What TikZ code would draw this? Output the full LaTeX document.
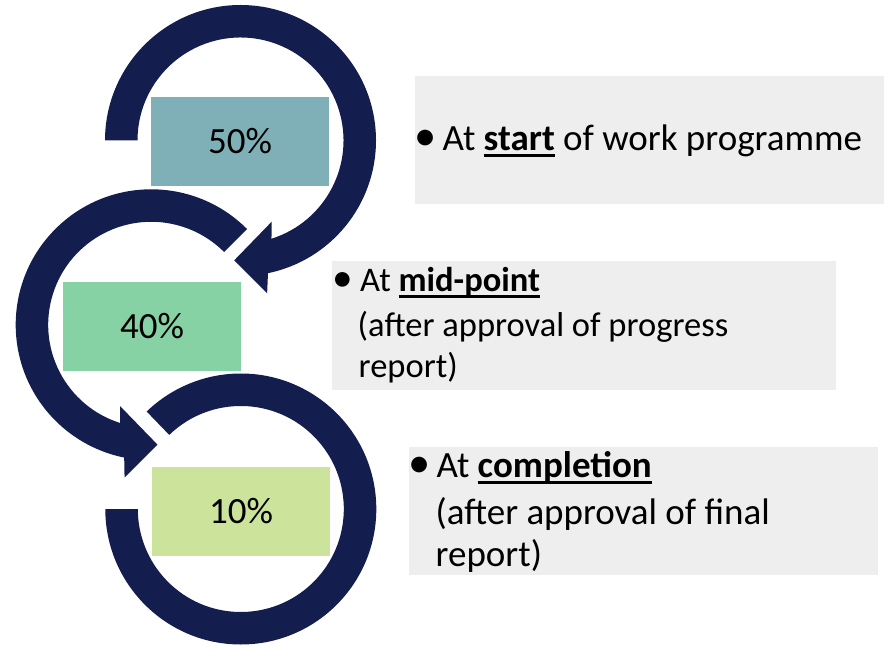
\documentclass[tikz,border=0pt]{standalone}
\usepackage{fontspec}
\usepackage{graphicx}
\setmainfont{Carlito}
\definecolor{navy}{RGB}{20,30,78}
\definecolor{boxgrey}{RGB}{238,238,238}
\definecolor{pctA}{RGB}{127,176,183}
\definecolor{pctB}{RGB}{135,210,165}
\definecolor{pctC}{RGB}{204,227,155}
\newcommand{\myul}[1]{\setbox0\hbox{#1}\rlap{\rule[-6pt]{\wd0}{2.8pt}}\box0\relax}
\newcommand{\mybul}[1]{\makebox[#1][l]{\hspace{-6pt}\scalebox{1.2}{•}}}
\begin{document}
\begin{tikzpicture}[x=1pt,y=1pt,
  pct/.style={minimum width=178pt,minimum height=89pt,inner sep=0pt,font=\fontsize{37}{44}\selectfont},
  greybox/.style={fill=boxgrey,inner sep=0pt,anchor=south west},
  txtline/.style={anchor=base west,inner sep=0pt,font=\fontsize{37}{44}\selectfont},
  txtsmall/.style={anchor=base west,inner sep=0pt,font=\fontsize{34.5}{41}\selectfont}]
\useasboundingbox (0,0) rectangle (886,646);
% ring 1 (clockwise, arrow)
\begin{scope}[shift={(240.5,505.5)}]
\fill[navy] (180:135.5pt) arc[start angle=180,end angle=-78.3,radius=135.5pt]
  -- (-80.1:155pt) -- (-93:120pt) -- (-69:87pt) -- (-72.5:103pt)
  arc[start angle=-72.5,end angle=180,radius=103pt] -- cycle;
\end{scope}
% ring 2 (counter-clockwise, arrow)
\begin{scope}[shift={(151.2,321.2)}]
\fill[navy] (45:135.5pt) arc[start angle=45,end angle=258.5,radius=135.5pt]
  -- (260.1:155pt) -- (273:120pt) -- (249:87pt) -- (252.5:103pt)
  arc[start angle=252.5,end angle=45,radius=103pt] -- cycle;
\end{scope}
% ring 3 (no arrow)
\begin{scope}[shift={(240.8,137)}]
\fill[navy] (180:135.5pt) arc[start angle=180,end angle=494,radius=135.5pt]
  -- (494:103pt) arc[start angle=494,end angle=180,radius=103pt] -- cycle;
\end{scope}
% percentage boxes
\node[pct,fill=pctA] (p50) at (240,504.8) {50\%};
\node[pct,fill=pctB] (p40) at (152.2,319.8) {40\%};
\node[pct,fill=pctC] (p10) at (241,134.7) {10\%};
% grey boxes
\node[greybox,minimum width=469pt,minimum height=127.6pt] (ga) at (415,441.7) {};
\node[greybox,minimum width=504.3pt,minimum height=128.3pt] (gb) at (331.7,256) {};
\node[greybox,minimum width=468.7pt,minimum height=128.3pt] (gc) at (409,71) {};
% texts
\node[txtline] (ta) at (420,495.3) {\mybul{22.3pt}At \myul{\textbf{start}} of work programme};
\node[txtsmall] (tb1) at (338.3,354) {\mybul{21.7pt}At \myul{\textbf{mid-point}}};
\node[txtsmall] (tb2) at (357.5,309) {(after approval of progress};
\node[txtsmall] (tb3) at (358.5,269) {report)};
\node[txtline] (tc1) at (414.7,168.3) {\mybul{21.6pt}At \myul{\textbf{completion}}};
\node[txtline] (tc2) at (435.5,121.7) {(after approval of final};
\node[txtline] (tc3) at (435.5,80) {report)};
\end{tikzpicture}
\end{document}
